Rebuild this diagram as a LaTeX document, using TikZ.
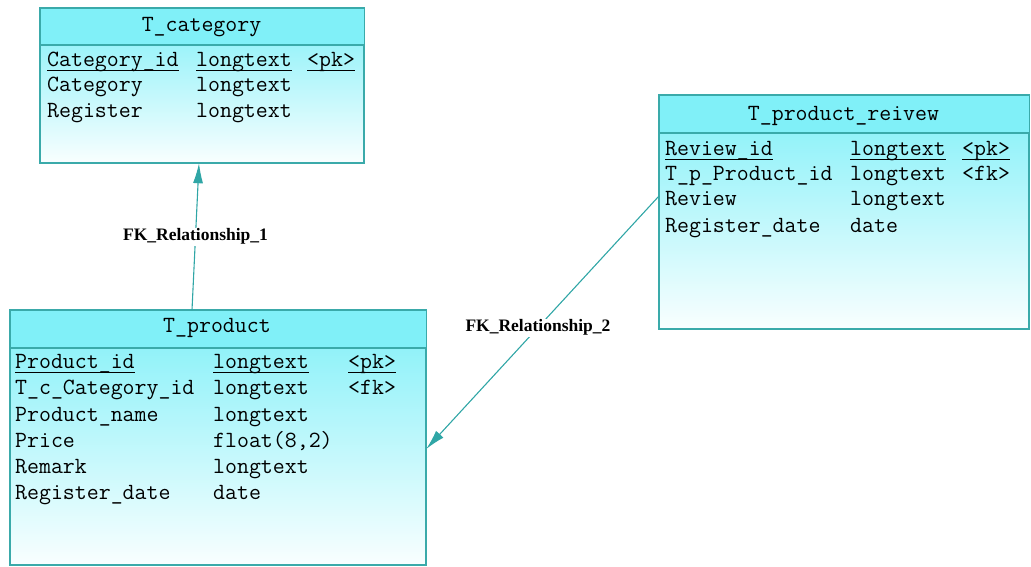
\documentclass[tikz,border=0pt]{standalone}
\usepackage{fontspec}
\usetikzlibrary{arrows.meta}
\definecolor{hdr}{HTML}{80F0F8}
\definecolor{edge}{HTML}{3AAAAA}
\definecolor{conn}{HTML}{30A6A6}
\newcommand\pkul[1]{\setbox0\hbox{#1}\rlap{\rule[-4.6pt]{\wd0}{1.1pt}}\box0}
\tikzset{
  tbl/.style={draw=edge, line width=1.2pt, top color=hdr, bottom color=white!95!hdr, anchor=north west, inner sep=0pt},
  cell/.style={anchor=mid west, inner sep=0pt, font=\ttfamily\fontsize{23.2}{26}\selectfont},
  ttl/.style={anchor=mid, inner sep=0pt, font=\ttfamily\fontsize{23.2}{26}\selectfont},
  rel/.style={draw=conn, line width=1.1pt, -{Latex[length=20pt,width=10pt]}},
  rlab/.style={fill=white, inner sep=1pt, font=\fontspec{Liberation Serif}\bfseries\fontsize{17.5}{18}\selectfont}
}
\begin{document}
\begin{tikzpicture}[x=1pt,y=-1pt]
\useasboundingbox (0,0) rectangle (1031,566);
% ---------- T_category
\node[tbl, minimum width=323pt, minimum height=154pt] (cat) at (40,8) {};
\fill[hdr] ([shift={(0.6pt,-0.6pt)}]cat.north west) rectangle ([shift={(-0.6pt,0pt)}]cat.north east |- 0,45);
\draw[edge, line width=1.2pt] (cat.west |- 0,45) -- (cat.east |- 0,45);
\draw[edge, line width=1.2pt] (cat.north west) rectangle (cat.south east);
\node[ttl] (catT) at (201.5,29) {T\_category};
\node[cell] (c1a) at (47,64) {\pkul{Category\_id}};
\node[cell] (c1b) at (196,64) {\pkul{longtext}};
\node[cell] (c1c) at (307,64) {\pkul{<pk>}};
\node[cell] (c2a) at (47,89) {Category};
\node[cell] (c2b) at (196,89) {longtext};
\node[cell] (c3a) at (47,115) {Register};
\node[cell] (c3b) at (196,115) {longtext};
% ---------- T_product
\node[tbl, minimum width=415pt, minimum height=254pt] (prod) at (10,310) {};
\fill[hdr] ([shift={(0.6pt,-0.6pt)}]prod.north west) rectangle ([shift={(-0.6pt,0pt)}]prod.north east |- 0,348);
\draw[edge, line width=1.2pt] (prod.west |- 0,348) -- (prod.east |- 0,348);
\draw[edge, line width=1.2pt] (prod.north west) rectangle (prod.south east);
\node[ttl] (prodT) at (217,330) {T\_product};
\node[cell] (p1a) at (15,366) {\pkul{Product\_id}};
\node[cell] (p1b) at (213,366) {\pkul{longtext}};
\node[cell] (p1c) at (348,366) {\pkul{<pk>}};
\node[cell] (p2a) at (15,392) {T\_c\_Category\_id};
\node[cell] (p2b) at (213,392) {longtext};
\node[cell] (p2c) at (348,392) {<fk>};
\node[cell] (p3a) at (15,419) {Product\_name};
\node[cell] (p3b) at (213,419) {longtext};
\node[cell] (p4a) at (15,445) {Price};
\node[cell] (p4b) at (213,445) {float(8,2)};
\node[cell] (p5a) at (15,471) {Remark};
\node[cell] (p5b) at (213,471) {longtext};
\node[cell] (p6a) at (15,497) {Register\_date};
\node[cell] (p6b) at (213,497) {date};
% ---------- T_product_reivew
\node[tbl, minimum width=369pt, minimum height=233pt] (rev) at (659,95) {};
\fill[hdr] ([shift={(0.6pt,-0.6pt)}]rev.north west) rectangle ([shift={(-0.6pt,0pt)}]rev.north east |- 0,133);
\draw[edge, line width=1.2pt] (rev.west |- 0,133) -- (rev.east |- 0,133);
\draw[edge, line width=1.2pt] (rev.north west) rectangle (rev.south east);
\node[ttl] (revT) at (843.5,118) {T\_product\_reivew};
\node[cell] (r1a) at (665,153) {\pkul{Review\_id}};
\node[cell] (r1b) at (850,153) {\pkul{longtext}};
\node[cell] (r1c) at (962,153) {\pkul{<pk>}};
\node[cell] (r2a) at (665,178) {T\_p\_Product\_id};
\node[cell] (r2b) at (850,178) {longtext};
\node[cell] (r2c) at (962,178) {<fk>};
\node[cell] (r3a) at (665,203) {Review};
\node[cell] (r3b) at (850,203) {longtext};
\node[cell] (r4a) at (665,230) {Register\_date};
\node[cell] (r4b) at (850,230) {date};
% ---------- relationships
\coordinate (e1s) at (prod.north west -| 192,0);
\coordinate (e1t) at (cat.south west -| 199,0);
\draw[rel] (e1s) -- node[rlab, pos=0.5] (lab1) {FK\_Relationship\_1} (e1t);
\coordinate (e2s) at (rev.west |- 0,196);
\coordinate (e2t) at (prod.east |- 0,449);
\draw[rel] (e2s) -- node[rlab, pos=0.52] (lab2) {FK\_Relationship\_2} (e2t);
\end{tikzpicture}
\end{document}
